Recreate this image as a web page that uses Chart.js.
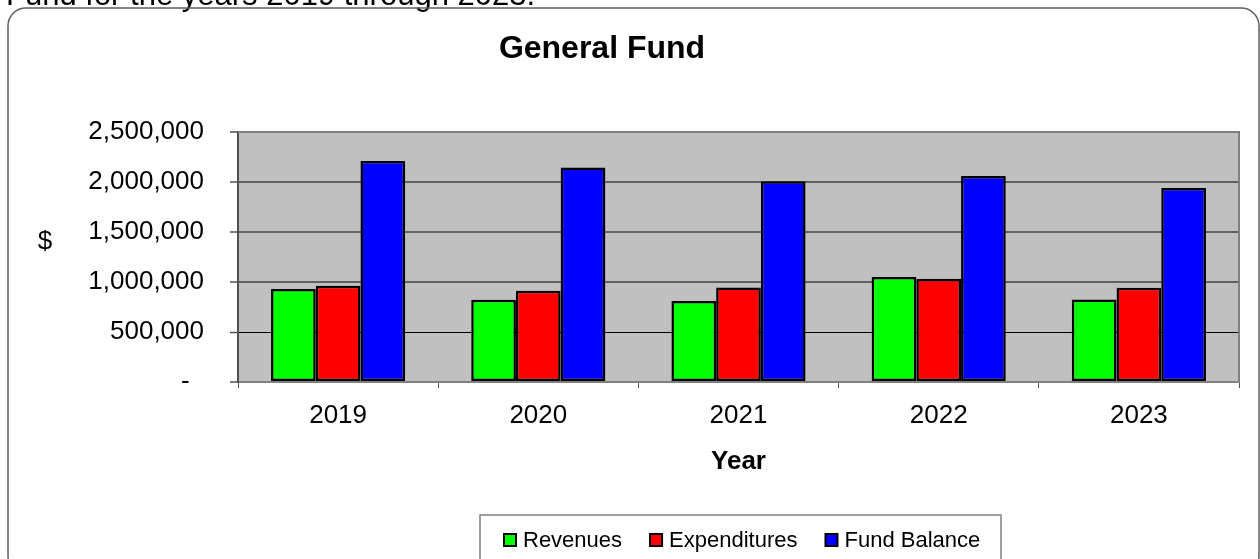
<!DOCTYPE html>
<html>
<head>
<meta charset="utf-8">
<script src="https://cdn.jsdelivr.net/npm/chart.js@4.4.1/dist/chart.umd.min.js"></script>
<style>
  html, body { margin: 0; padding: 0; background: #fff; }
  #wrap { width: 1260px; height: 559px; }
</style>
</head>
<body>
<div id="wrap"><canvas id="fund" width="1260" height="559"></canvas></div>
<script>
const years = ['2019', '2020', '2021', '2022', '2023'];
const revenues = [929000, 822000, 809000, 1049000, 826000];
const expenditures = [962000, 912000, 946000, 1032000, 942000];
const fundBalance = [2210000, 2144000, 2008000, 2061000, 1941000];
const seriesNames = ['Revenues', 'Expenditures', 'Fund Balance'];
const seriesColors = ['#00FF00', '#FF0000', '#0000FF'];

const FONT = '"Liberation Sans", Arial, sans-serif';

function roundRect(ctx, x, y, w, h, r) {
  ctx.beginPath();
  ctx.moveTo(x + r, y);
  ctx.lineTo(x + w - r, y);
  ctx.arcTo(x + w, y, x + w, y + r, r);
  ctx.lineTo(x + w, y + h - r);
  ctx.arcTo(x + w, y + h, x + w - r, y + h, r);
  ctx.lineTo(x + r, y + h);
  ctx.arcTo(x, y + h, x, y + h - r, r);
  ctx.lineTo(x, y + r);
  ctx.arcTo(x, y, x + r, y, r);
  ctx.closePath();
}

const decor = {
  id: 'decor',
  beforeDraw(chart) {
    const { ctx, chartArea: a } = chart;
    ctx.save();
    ctx.fillStyle = '#fff';
    ctx.fillRect(0, 0, chart.width, chart.height);

    // text of the page above the chart, cut off at the top
    ctx.fillStyle = '#000';
    ctx.font = '31px ' + FONT;
    ctx.textAlign = 'left';
    ctx.textBaseline = 'alphabetic';
    ctx.fillText('Fund for the years 2019 through 2023.', 6, 5);

    // outer frame
    roundRect(ctx, 8, 8, 1251, 566, 18);
    ctx.strokeStyle = '#606060';
    ctx.lineWidth = 1.5;
    ctx.stroke();

    // plot background
    ctx.fillStyle = '#C0C0C0';
    ctx.fillRect(a.left, a.top, a.right - a.left, a.bottom - a.top);
    ctx.restore();
  },
  afterDraw(chart) {
    const { ctx, chartArea: a } = chart;
    ctx.save();
    ctx.strokeStyle = '#808080';
    ctx.lineWidth = 2;
    ctx.beginPath();
    ctx.moveTo(a.left, a.top);
    ctx.lineTo(a.right, a.top);
    ctx.lineTo(a.right, a.bottom);
    ctx.stroke();

    ctx.fillStyle = '#000';
    ctx.textBaseline = 'middle';
    ctx.textAlign = 'center';
    ctx.font = 'bold 32px ' + FONT;
    ctx.fillText('General Fund', 602, 49);

    ctx.font = '26px ' + FONT;
    ctx.fillText('$', 45, 242);

    ctx.font = 'bold 26px ' + FONT;
    ctx.fillText('Year', (a.left + a.right) / 2, 462);

    // legend
    ctx.strokeStyle = '#808080';
    ctx.lineWidth = 1.5;
    ctx.strokeRect(480, 515, 521, 70);
    ctx.font = '22px ' + FONT;
    ctx.textAlign = 'left';
    let x = 504;
    chart.data.datasets.forEach(ds => {
      ctx.fillStyle = ds.backgroundColor;
      ctx.fillRect(x, 534, 12, 12);
      ctx.strokeStyle = '#000';
      ctx.lineWidth = 2;
      ctx.strokeRect(x, 534, 12, 12);
      ctx.fillStyle = '#000';
      ctx.fillText(ds.label, x + 19, 541);
      x += 19 + ctx.measureText(ds.label).width + 28;
    });
    ctx.restore();
  }
};

const values = [revenues, expenditures, fundBalance];

new Chart(document.getElementById('fund'), {
  type: 'bar',
  data: {
    labels: years,
    datasets: seriesNames.map((name, i) => ({
      label: name,
      data: values[i],
      backgroundColor: seriesColors[i],
      borderColor: '#000',
      borderWidth: 2.5,
      borderSkipped: false,
      categoryPercentage: 0.67,
      barPercentage: 1.0
    }))
  },
  options: {
    responsive: false,
    animation: false,
    devicePixelRatio: 1,
    layout: { padding: { left: 0, top: 132, right: 21, bottom: 117 } },
    plugins: { legend: { display: false }, title: { display: false }, tooltip: { enabled: false } },
    scales: {
      x: {
        afterFit(s) { s.height = 60; },
        grid: { offset: true, drawOnChartArea: false, drawTicks: true, tickLength: 6, tickColor: '#555' },
        border: { color: '#808080', width: 2 },
        ticks: { color: '#000', font: { family: FONT, size: 26 }, padding: 12, maxRotation: 0 }
      },
      y: {
        min: 0,
        max: 2500000,
        afterFit(s) { s.width = 238; },
        grid: {
          color: c => c.tick && c.tick.value === 500000 ? '#000' : '#606060',
          lineWidth: c => c.tick && c.tick.value === 500000 ? 1 : 2,
          tickLength: 8,
          tickColor: '#505050',
          tickWidth: 1.5
        },
        border: { color: '#505050', width: 2 },
        ticks: {
          stepSize: 500000,
          padding: 26,
          color: '#000',
          font: { family: FONT, size: 26 },
          callback: v => v === 0 ? '-  ' : v.toLocaleString('en-US')
        }
      }
    }
  },
  plugins: [decor]
});
</script>
</body>
</html>
